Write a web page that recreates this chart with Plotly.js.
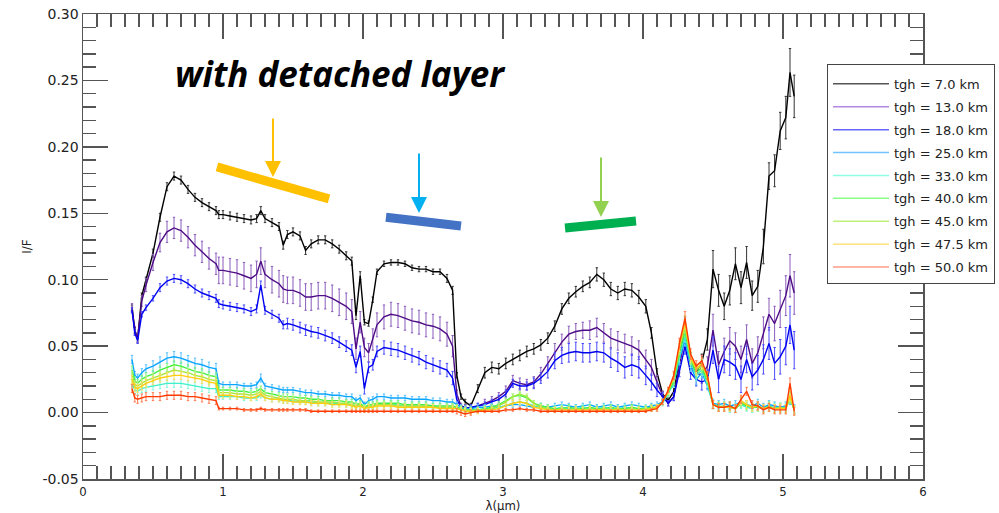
<!DOCTYPE html>
<html>
<head>
<meta charset="utf-8">
<script src="https://cdn.plot.ly/plotly-3.0.1.min.js"></script>
<style>html,body{margin:0;padding:0;background:#fff;}#chart{width:999px;height:513px;}</style>
</head>
<body>
<div id="chart"></div>
<script>
// ---- data ----
const wavelength = [
 0.35,0.37,0.39,0.42,0.45,0.50,0.55,0.60,0.65,0.70,
 0.75,0.80,0.85,0.90,0.95,0.97,1.00,1.05,1.10,1.15,
 1.20,1.24,1.27,1.30,1.35,1.40,1.43,1.46,1.50,1.55,
 1.59,1.63,1.68,1.73,1.78,1.83,1.88,1.92,1.95,1.98,
 2.01,2.04,2.07,2.10,2.15,2.20,2.25,2.30,2.35,2.40,
 2.45,2.50,2.55,2.60,2.64,2.67,2.70,2.73,2.77,2.82,
 2.87,2.92,2.97,3.02,3.07,3.12,3.17,3.22,3.27,3.32,
 3.37,3.42,3.47,3.52,3.57,3.62,3.67,3.72,3.77,3.82,
 3.87,3.92,3.97,4.02,4.06,4.10,4.14,4.18,4.22,4.26,
 4.30,4.34,4.38,4.42,4.46,4.50,4.54,4.58,4.62,4.66,
 4.70,4.74,4.78,4.82,4.86,4.90,4.94,4.98,5.02,5.05,
 5.08];

const seriesNames = ['tgh = 7.0 km','tgh = 13.0 km','tgh = 18.0 km','tgh = 25.0 km','tgh = 33.0 km',
                     'tgh = 40.0 km','tgh = 45.0 km','tgh = 47.5 km','tgh = 50.0 km'];

const if_tgh07 = [
 0.079,0.062,0.055,0.088,0.100,0.120,0.147,0.170,0.178,0.175,
 0.168,0.162,0.158,0.155,0.152,0.149,0.149,0.148,0.147,0.146,
 0.145,0.146,0.152,0.146,0.143,0.140,0.126,0.134,0.136,0.133,
 0.122,0.127,0.130,0.130,0.127,0.123,0.118,0.114,0.073,0.103,
 0.068,0.067,0.085,0.106,0.112,0.113,0.113,0.112,0.109,0.108,
 0.108,0.106,0.106,0.101,0.092,0.028,0.012,0.008,0.005,0.018,
 0.030,0.034,0.033,0.037,0.040,0.043,0.046,0.048,0.051,0.056,
 0.065,0.078,0.086,0.091,0.095,0.098,0.104,0.100,0.093,0.090,
 0.093,0.092,0.087,0.080,0.060,0.030,0.014,0.009,0.016,0.040,
 0.066,0.040,0.030,0.038,0.055,0.108,0.092,0.080,0.092,0.112,
 0.094,0.113,0.088,0.095,0.125,0.178,0.182,0.212,0.222,0.256,
 0.238];
const if_tgh13 = [
 0.079,0.062,0.056,0.084,0.096,0.113,0.128,0.136,0.139,0.137,
 0.132,0.126,0.121,0.116,0.112,0.107,0.107,0.106,0.105,0.103,
 0.101,0.104,0.114,0.104,0.100,0.097,0.093,0.092,0.092,0.090,
 0.087,0.087,0.088,0.088,0.086,0.083,0.080,0.076,0.048,0.068,
 0.049,0.045,0.055,0.066,0.072,0.074,0.073,0.071,0.069,0.068,
 0.066,0.065,0.063,0.059,0.050,0.014,0.005,0.004,0.003,0.005,
 0.007,0.009,0.012,0.016,0.024,0.022,0.021,0.023,0.029,0.037,
 0.046,0.053,0.059,0.061,0.062,0.062,0.064,0.060,0.056,0.054,
 0.052,0.050,0.047,0.040,0.034,0.023,0.013,0.007,0.012,0.035,
 0.058,0.035,0.030,0.028,0.035,0.062,0.036,0.046,0.054,0.050,
 0.040,0.055,0.037,0.045,0.060,0.074,0.067,0.078,0.088,0.103,
 0.090];
const if_tgh18 = [
 0.077,0.060,0.054,0.074,0.079,0.086,0.094,0.099,0.101,0.100,
 0.097,0.093,0.090,0.088,0.086,0.082,0.081,0.080,0.079,0.078,
 0.076,0.078,0.096,0.077,0.074,0.071,0.066,0.067,0.066,0.064,
 0.062,0.061,0.060,0.058,0.056,0.053,0.050,0.047,0.034,0.046,
 0.018,0.034,0.036,0.046,0.049,0.048,0.047,0.045,0.043,0.041,
 0.038,0.036,0.034,0.032,0.026,0.010,0.004,0.003,0.004,0.005,
 0.006,0.008,0.010,0.014,0.022,0.020,0.020,0.022,0.026,0.031,
 0.039,0.043,0.045,0.046,0.045,0.045,0.046,0.045,0.041,0.038,
 0.034,0.036,0.034,0.028,0.023,0.017,0.012,0.007,0.012,0.032,
 0.050,0.030,0.025,0.023,0.025,0.047,0.025,0.040,0.038,0.035,
 0.025,0.040,0.027,0.032,0.040,0.052,0.037,0.042,0.050,0.066,
 0.047];
const if_tgh25 = [
 0.040,0.028,0.026,0.030,0.033,0.035,0.038,0.041,0.042,0.041,
 0.039,0.037,0.036,0.034,0.033,0.022,0.021,0.021,0.021,0.020,
 0.020,0.021,0.026,0.020,0.019,0.018,0.017,0.017,0.017,0.016,
 0.015,0.015,0.014,0.014,0.013,0.013,0.012,0.012,0.009,0.011,
 0.006,0.009,0.010,0.012,0.012,0.011,0.011,0.011,0.010,0.010,
 0.010,0.009,0.009,0.008,0.008,0.006,0.004,0.003,0.003,0.004,
 0.004,0.005,0.004,0.005,0.006,0.006,0.005,0.004,0.005,0.004,
 0.005,0.006,0.005,0.004,0.005,0.006,0.004,0.005,0.006,0.004,
 0.005,0.006,0.005,0.004,0.005,0.006,0.008,0.015,0.022,0.040,
 0.055,0.035,0.025,0.030,0.020,0.007,0.006,0.007,0.005,0.006,
 0.008,0.006,0.005,0.007,0.004,0.006,0.005,0.004,0.005,0.010,
 0.003];
const if_tgh33 = [
 0.022,0.017,0.016,0.018,0.019,0.020,0.021,0.022,0.022,0.022,
 0.021,0.020,0.019,0.018,0.018,0.012,0.012,0.012,0.012,0.011,
 0.011,0.011,0.013,0.011,0.010,0.010,0.009,0.009,0.009,0.008,
 0.008,0.008,0.007,0.007,0.007,0.007,0.006,0.006,0.005,0.006,
 0.004,0.005,0.005,0.006,0.006,0.006,0.006,0.005,0.005,0.005,
 0.005,0.005,0.004,0.004,0.004,0.004,0.003,0.002,0.002,0.002,
 0.003,0.003,0.004,0.005,0.007,0.008,0.007,0.005,0.004,0.003,
 0.003,0.004,0.003,0.003,0.004,0.003,0.003,0.004,0.003,0.003,
 0.004,0.003,0.003,0.004,0.003,0.004,0.007,0.014,0.022,0.042,
 0.058,0.038,0.028,0.032,0.022,0.006,0.004,0.005,0.003,0.004,
 0.006,0.004,0.003,0.005,0.003,0.004,0.004,0.003,0.004,0.012,
 0.002];
const if_tgh40 = [
 0.032,0.024,0.022,0.025,0.027,0.029,0.032,0.034,0.036,0.035,
 0.033,0.031,0.030,0.028,0.027,0.017,0.017,0.017,0.016,0.016,
 0.015,0.016,0.018,0.015,0.014,0.013,0.012,0.012,0.012,0.011,
 0.011,0.010,0.010,0.009,0.009,0.009,0.008,0.008,0.006,0.007,
 0.004,0.006,0.006,0.007,0.007,0.007,0.007,0.006,0.006,0.006,
 0.006,0.005,0.005,0.005,0.005,0.004,0.003,0.002,0.002,0.002,
 0.003,0.004,0.006,0.009,0.012,0.013,0.011,0.007,0.005,0.004,
 0.003,0.003,0.004,0.003,0.003,0.004,0.003,0.003,0.004,0.003,
 0.003,0.004,0.003,0.003,0.004,0.004,0.008,0.015,0.024,0.045,
 0.062,0.040,0.030,0.034,0.024,0.006,0.005,0.004,0.005,0.003,
 0.007,0.005,0.004,0.004,0.003,0.005,0.003,0.004,0.003,0.011,
 0.002];
const if_tgh45 = [
 0.028,0.021,0.020,0.022,0.024,0.026,0.028,0.030,0.032,0.031,
 0.030,0.028,0.027,0.025,0.024,0.015,0.015,0.015,0.014,0.014,
 0.013,0.014,0.016,0.013,0.012,0.011,0.010,0.010,0.010,0.009,
 0.009,0.009,0.008,0.008,0.008,0.007,0.007,0.006,0.005,0.006,
 0.003,0.005,0.005,0.006,0.006,0.006,0.005,0.005,0.005,0.005,
 0.005,0.004,0.004,0.004,0.004,0.003,0.002,0.002,0.001,0.002,
 0.002,0.003,0.005,0.008,0.012,0.014,0.012,0.007,0.004,0.003,
 0.002,0.003,0.002,0.003,0.002,0.003,0.002,0.003,0.002,0.003,
 0.002,0.003,0.002,0.003,0.003,0.004,0.008,0.016,0.026,0.048,
 0.065,0.041,0.032,0.036,0.026,0.006,0.004,0.005,0.004,0.003,
 0.008,0.006,0.004,0.005,0.003,0.004,0.003,0.004,0.003,0.012,
 0.002];
const if_tgh475 = [
 0.025,0.019,0.018,0.020,0.022,0.024,0.026,0.027,0.028,0.028,
 0.027,0.026,0.025,0.023,0.022,0.013,0.013,0.013,0.012,0.012,
 0.011,0.012,0.014,0.011,0.010,0.010,0.009,0.009,0.008,0.008,
 0.008,0.007,0.007,0.007,0.006,0.006,0.006,0.005,0.004,0.005,
 0.003,0.004,0.004,0.005,0.005,0.005,0.004,0.004,0.004,0.004,
 0.004,0.004,0.003,0.003,0.003,0.003,0.002,0.001,0.001,0.001,
 0.002,0.002,0.003,0.005,0.007,0.008,0.007,0.004,0.003,0.002,
 0.002,0.002,0.002,0.002,0.002,0.002,0.002,0.002,0.002,0.002,
 0.002,0.002,0.002,0.002,0.003,0.004,0.008,0.016,0.027,0.050,
 0.068,0.042,0.033,0.037,0.027,0.006,0.004,0.004,0.004,0.003,
 0.009,0.006,0.004,0.005,0.003,0.004,0.003,0.003,0.003,0.013,
 0.002];
const if_tgh50 = [
 0.018,0.011,0.010,0.011,0.012,0.012,0.012,0.013,0.013,0.013,
 0.012,0.012,0.011,0.010,0.009,0.003,0.003,0.003,0.003,0.002,
 0.002,0.002,0.003,0.002,0.002,0.002,0.002,0.002,0.002,0.002,
 0.002,0.001,0.001,0.001,0.001,0.001,0.001,0.001,0.001,0.001,
 0.001,0.001,0.001,0.001,0.001,0.001,0.001,0.001,0.001,0.001,
 0.001,0.001,0.001,0.001,0.001,0.001,0.000,-0.001,0.000,0.001,
 0.001,0.001,0.001,0.002,0.002,0.003,0.002,0.002,0.001,0.001,
 0.001,0.001,0.001,0.001,0.001,0.001,0.001,0.001,0.001,0.001,
 0.001,0.001,0.001,0.001,0.002,0.003,0.008,0.017,0.028,0.052,
 0.071,0.044,0.035,0.039,0.028,0.006,0.004,0.004,0.005,0.003,
 0.010,0.016,0.006,0.005,0.002,0.004,0.002,0.002,0.002,0.022,
 0.001];

// ---- 1-sigma uncertainties ----
const err_tgh07 = [
 0.002,0.002,0.002,0.002,0.002,0.003,0.003,0.003,0.003,0.003,
 0.003,0.003,0.003,0.003,0.003,0.003,0.003,0.003,0.003,0.003,
 0.003,0.003,0.003,0.003,0.003,0.003,0.003,0.003,0.003,0.003,
 0.003,0.003,0.003,0.003,0.003,0.003,0.003,0.003,0.003,0.003,
 0.002,0.002,0.002,0.002,0.002,0.002,0.002,0.002,0.002,0.002,
 0.002,0.002,0.002,0.003,0.003,0.002,0.002,0.002,0.002,0.003,
 0.004,0.004,0.004,0.004,0.004,0.004,0.004,0.004,0.004,0.004,
 0.004,0.004,0.004,0.004,0.004,0.004,0.005,0.005,0.005,0.005,
 0.005,0.005,0.005,0.005,0.004,0.003,0.002,0.002,0.003,0.005,
 0.006,0.005,0.005,0.006,0.008,0.014,0.012,0.010,0.011,0.012,
 0.012,0.012,0.011,0.012,0.013,0.010,0.012,0.014,0.016,0.018,
 0.016];
const err_tgh13 = [
 0.003,0.003,0.003,0.004,0.005,0.006,0.007,0.008,0.008,0.008,
 0.008,0.008,0.008,0.008,0.008,0.010,0.010,0.010,0.010,0.010,
 0.010,0.010,0.010,0.010,0.010,0.010,0.010,0.010,0.010,0.010,
 0.010,0.010,0.010,0.010,0.010,0.010,0.010,0.009,0.008,0.008,
 0.007,0.007,0.008,0.009,0.009,0.009,0.009,0.009,0.009,0.009,
 0.009,0.009,0.009,0.009,0.008,0.003,0.002,0.002,0.002,0.002,
 0.003,0.003,0.003,0.004,0.004,0.004,0.004,0.004,0.005,0.005,
 0.006,0.006,0.006,0.006,0.006,0.007,0.007,0.007,0.007,0.007,
 0.007,0.007,0.007,0.007,0.006,0.005,0.003,0.002,0.003,0.005,
 0.006,0.005,0.005,0.006,0.007,0.012,0.010,0.010,0.010,0.010,
 0.010,0.011,0.011,0.012,0.012,0.012,0.013,0.014,0.015,0.016,
 0.016];
const err_tgh18 = [
 0.002,0.002,0.002,0.002,0.002,0.002,0.003,0.003,0.003,0.003,
 0.003,0.003,0.003,0.003,0.003,0.003,0.003,0.003,0.003,0.003,
 0.003,0.003,0.003,0.003,0.003,0.003,0.003,0.004,0.004,0.004,
 0.004,0.004,0.004,0.004,0.004,0.004,0.004,0.004,0.004,0.004,
 0.004,0.004,0.004,0.004,0.005,0.005,0.005,0.005,0.005,0.005,
 0.005,0.005,0.005,0.005,0.005,0.003,0.002,0.002,0.002,0.002,
 0.002,0.002,0.003,0.003,0.003,0.003,0.003,0.004,0.004,0.005,
 0.006,0.006,0.007,0.007,0.007,0.007,0.007,0.007,0.007,0.007,
 0.008,0.008,0.008,0.007,0.006,0.005,0.003,0.002,0.003,0.005,
 0.006,0.005,0.005,0.006,0.007,0.010,0.010,0.010,0.010,0.010,
 0.010,0.010,0.010,0.011,0.011,0.012,0.012,0.013,0.014,0.014,
 0.014];
const err_tgh25 = [
 0.003,0.003,0.003,0.003,0.003,0.004,0.004,0.004,0.004,0.004,
 0.004,0.004,0.004,0.004,0.004,0.002,0.002,0.002,0.002,0.002,
 0.002,0.002,0.003,0.002,0.002,0.002,0.002,0.002,0.002,0.002,
 0.002,0.002,0.002,0.002,0.002,0.002,0.002,0.002,0.002,0.002,
 0.002,0.002,0.002,0.002,0.002,0.002,0.002,0.002,0.002,0.002,
 0.002,0.002,0.002,0.002,0.002,0.002,0.002,0.002,0.002,0.002,
 0.002,0.002,0.002,0.002,0.002,0.002,0.002,0.002,0.002,0.002,
 0.002,0.002,0.002,0.002,0.002,0.002,0.002,0.002,0.002,0.002,
 0.002,0.002,0.002,0.002,0.002,0.002,0.002,0.002,0.003,0.004,
 0.005,0.004,0.004,0.004,0.003,0.003,0.003,0.003,0.003,0.003,
 0.003,0.003,0.003,0.003,0.003,0.003,0.003,0.003,0.003,0.004,
 0.003];
const err_tgh33 = [
 0.003,0.003,0.003,0.003,0.003,0.003,0.003,0.003,0.003,0.003,
 0.003,0.003,0.003,0.003,0.003,0.002,0.002,0.002,0.002,0.002,
 0.002,0.002,0.002,0.002,0.002,0.002,0.002,0.002,0.002,0.002,
 0.002,0.002,0.002,0.002,0.002,0.002,0.002,0.002,0.002,0.002,
 0.002,0.002,0.002,0.002,0.002,0.002,0.002,0.002,0.002,0.002,
 0.002,0.002,0.002,0.002,0.002,0.002,0.002,0.002,0.002,0.002,
 0.002,0.002,0.002,0.002,0.002,0.002,0.002,0.002,0.002,0.002,
 0.002,0.002,0.002,0.002,0.002,0.002,0.002,0.002,0.002,0.002,
 0.002,0.002,0.002,0.002,0.002,0.002,0.002,0.002,0.003,0.004,
 0.005,0.004,0.004,0.004,0.003,0.003,0.003,0.003,0.003,0.003,
 0.003,0.003,0.003,0.003,0.003,0.003,0.003,0.003,0.003,0.004,
 0.003];
const err_tgh40 = [
 0.003,0.003,0.003,0.003,0.003,0.003,0.003,0.003,0.003,0.003,
 0.003,0.003,0.003,0.003,0.003,0.002,0.002,0.002,0.002,0.002,
 0.002,0.002,0.002,0.002,0.002,0.002,0.002,0.002,0.002,0.002,
 0.002,0.002,0.002,0.002,0.002,0.002,0.002,0.002,0.002,0.002,
 0.002,0.002,0.002,0.002,0.002,0.002,0.002,0.002,0.002,0.002,
 0.002,0.002,0.002,0.002,0.002,0.002,0.002,0.002,0.002,0.002,
 0.002,0.002,0.002,0.002,0.002,0.002,0.002,0.002,0.002,0.002,
 0.002,0.002,0.002,0.002,0.002,0.002,0.002,0.002,0.002,0.002,
 0.002,0.002,0.002,0.002,0.002,0.002,0.002,0.002,0.003,0.004,
 0.005,0.004,0.004,0.004,0.003,0.003,0.003,0.003,0.003,0.003,
 0.003,0.003,0.003,0.003,0.003,0.003,0.003,0.003,0.003,0.004,
 0.003];
const err_tgh45 = [
 0.003,0.003,0.003,0.003,0.003,0.003,0.003,0.003,0.003,0.003,
 0.003,0.003,0.003,0.003,0.003,0.002,0.002,0.002,0.002,0.002,
 0.002,0.002,0.002,0.002,0.002,0.002,0.002,0.002,0.002,0.002,
 0.002,0.002,0.002,0.002,0.002,0.002,0.002,0.002,0.002,0.002,
 0.002,0.002,0.002,0.002,0.002,0.002,0.002,0.002,0.002,0.002,
 0.002,0.002,0.002,0.002,0.002,0.002,0.002,0.002,0.002,0.002,
 0.002,0.002,0.002,0.002,0.002,0.002,0.002,0.002,0.002,0.002,
 0.002,0.002,0.002,0.002,0.002,0.002,0.002,0.002,0.002,0.002,
 0.002,0.002,0.002,0.002,0.002,0.002,0.002,0.002,0.003,0.004,
 0.005,0.004,0.004,0.004,0.003,0.003,0.003,0.003,0.003,0.003,
 0.003,0.003,0.003,0.003,0.003,0.003,0.003,0.003,0.003,0.004,
 0.003];
const err_tgh475 = [
 0.003,0.003,0.003,0.003,0.003,0.003,0.003,0.003,0.003,0.003,
 0.003,0.003,0.003,0.003,0.003,0.002,0.002,0.002,0.002,0.002,
 0.002,0.002,0.002,0.002,0.002,0.002,0.002,0.002,0.002,0.002,
 0.002,0.002,0.002,0.002,0.002,0.002,0.002,0.002,0.002,0.002,
 0.002,0.002,0.002,0.002,0.002,0.002,0.002,0.002,0.002,0.002,
 0.002,0.002,0.002,0.002,0.002,0.002,0.002,0.002,0.002,0.002,
 0.002,0.002,0.002,0.002,0.002,0.002,0.002,0.002,0.002,0.002,
 0.002,0.002,0.002,0.002,0.002,0.002,0.002,0.002,0.002,0.002,
 0.002,0.002,0.002,0.002,0.002,0.002,0.002,0.002,0.003,0.004,
 0.005,0.004,0.004,0.004,0.003,0.003,0.003,0.003,0.003,0.003,
 0.003,0.003,0.003,0.003,0.003,0.003,0.003,0.003,0.003,0.004,
 0.003];
const err_tgh50 = [
 0.003,0.003,0.003,0.003,0.003,0.003,0.003,0.003,0.003,0.003,
 0.003,0.003,0.003,0.003,0.003,0.001,0.001,0.001,0.001,0.001,
 0.001,0.001,0.001,0.001,0.001,0.001,0.001,0.001,0.001,0.001,
 0.001,0.001,0.001,0.001,0.001,0.001,0.001,0.001,0.001,0.001,
 0.001,0.001,0.001,0.001,0.001,0.001,0.001,0.001,0.001,0.001,
 0.001,0.001,0.001,0.001,0.001,0.002,0.002,0.002,0.002,0.001,
 0.001,0.001,0.001,0.001,0.001,0.001,0.001,0.001,0.001,0.001,
 0.001,0.001,0.001,0.001,0.001,0.001,0.001,0.001,0.001,0.001,
 0.001,0.001,0.001,0.001,0.001,0.002,0.002,0.002,0.003,0.004,
 0.005,0.004,0.004,0.004,0.003,0.003,0.003,0.003,0.003,0.003,
 0.003,0.003,0.003,0.003,0.003,0.003,0.003,0.003,0.003,0.004,
 0.003];

const xTickVals = [0,1,2,3,4,5,6];
const xTickText = ['0','1','2','3','4','5','6'];
const yTickVals = [-0.05,0,0.05,0.10,0.15,0.20,0.25,0.30];
const yTickText = ['-0.05','0.00','0.05','0.10','0.15','0.20','0.25','0.30'];

// ---- styles ----
const ifSeries  = [if_tgh07,if_tgh13,if_tgh18,if_tgh25,if_tgh33,if_tgh40,if_tgh45,if_tgh475,if_tgh50];
const errSeries = [err_tgh07,err_tgh13,err_tgh18,err_tgh25,err_tgh33,err_tgh40,err_tgh45,err_tgh475,err_tgh50];
const lineColors = ['#000000','#4e0c86','#0000f0','#0aa6ff','#3ef0c8','#44f044','#a6e83a','#ffcc10','#ff3a00'];
const errColors  = ['#333333','#8a5cbc','#4a4aff','#5cc0ff','#7ff5dc','#80f580','#c0f07a','#ffdc60','#ff7a50'];
const legColors  = ['#555555','#b488e0','#6666ff','#70c4ff','#8cffe4','#88ff88','#bff27a','#ffe27a','#ff9c84'];

const traces = [];
for (let i = 0; i < ifSeries.length; i++) {
  traces.push({
    type: 'scatter', mode: 'lines', x: wavelength, y: ifSeries[i], name: seriesNames[i],
    showlegend: false, hoverinfo: 'skip',
    line: {color: lineColors[i], width: 1.4},
    error_y: {type: 'data', array: errSeries[i], visible: true, color: errColors[i], thickness: 1, width: 1.2}
  });
}
for (let i = 0; i < seriesNames.length; i++) {
  traces.push({
    type: 'scatter', mode: 'lines', x: [null], y: [null], name: seriesNames[i],
    legendgroup: 'g' + i, showlegend: true,
    line: {color: legColors[i], width: 1.5}
  });
}

const axisCol = '#555555';
const layout = {
  width: 999, height: 513,
  margin: {l: 83, r: 76, t: 14, b: 34, autoexpand: false},
  paper_bgcolor: '#ffffff', plot_bgcolor: '#ffffff',
  font: {family: 'DejaVu Sans, sans-serif', color: '#222222', size: 13},
  showlegend: true,
  legend: {
    x: 0.8857, y: 0.8925, xanchor: 'left', yanchor: 'top',
    bgcolor: '#ffffff', bordercolor: '#444444', borderwidth: 1,
    font: {family: 'DejaVu Sans, sans-serif', size: 13, color: '#222222'},
    title: {text: ' ', font: {size: 3}},
    itemwidth: 56,
    tracegroupgap: 3, traceorder: 'grouped'
  },
  xaxis: {
    range: [0, 6], tickmode: 'array', tickvals: xTickVals, ticktext: xTickText,
    ticks: 'inside', ticklen: 25, tickwidth: 1.3, tickcolor: axisCol,
    showline: true, linecolor: axisCol, linewidth: 1.5, mirror: 'ticks',
    showgrid: false, zeroline: false,
    tickfont: {family: 'DejaVu Sans Condensed, DejaVu Sans, sans-serif', size: 13, color: '#222'},
    minor: {tickmode: 'linear', tick0: 0, dtick: 0.1, ticks: 'inside', ticklen: 13, tickwidth: 1.3, tickcolor: axisCol, showgrid: false},
    title: {text: 'λ(μm)', font: {family: 'DejaVu Sans Condensed, DejaVu Sans, sans-serif', size: 13, color: '#222'}, standoff: 6}
  },
  yaxis: {
    range: [-0.05, 0.30], tickmode: 'array', tickvals: yTickVals, ticktext: yTickText,
    ticks: 'inside', ticklen: 25, tickwidth: 1.3, tickcolor: axisCol,
    showline: true, linecolor: axisCol, linewidth: 1.5, mirror: 'ticks',
    showgrid: false, zeroline: false,
    tickfont: {family: 'DejaVu Sans, sans-serif', size: 14, color: '#222'},
    minor: {tickmode: 'linear', tick0: 0, dtick: 0.01, ticks: 'inside', ticklen: 13, tickwidth: 1.3, tickcolor: axisCol, showgrid: false},
    title: {text: 'I/F', font: {family: 'DejaVu Sans, sans-serif', size: 12, color: '#222'}, standoff: 8}
  },
  shapes: [
    {type: 'line', xref: 'x', yref: 'y', x0: 0.957, y0: 0.1849, x1: 1.757, y1: 0.1608, line: {color: '#FFC000', width: 9}, layer: 'above'},
    {type: 'line', xref: 'x', yref: 'y', x0: 2.164, y0: 0.1470, x1: 2.700, y1: 0.1405, line: {color: '#4472C4', width: 9}, layer: 'above'},
    {type: 'line', xref: 'x', yref: 'y', x0: 3.443, y0: 0.1389, x1: 3.950, y1: 0.1442, line: {color: '#00B050', width: 9}, layer: 'above'}
  ],
  annotations: [
    {xref: 'paper', yref: 'paper', x: 0.3065, y: 0.872, xanchor: 'center', yanchor: 'middle', showarrow: false,
     text: 'with detached layer', font: {family: 'Open Sans, sans-serif', size: 35, color: '#000', weight: 700, style: 'italic'}},
    {xref: 'x', yref: 'y', axref: 'x', ayref: 'y', x: 1.357, y: 0.1773, ax: 1.357, ay: 0.2225, text: '', showarrow: true,
     arrowhead: 2, arrowsize: 1.6, arrowwidth: 2, arrowcolor: '#FFC000', standoff: 0},
    {xref: 'x', yref: 'y', axref: 'x', ayref: 'y', x: 2.400, y: 0.1502, ax: 2.400, ay: 0.1962, text: '', showarrow: true,
     arrowhead: 2, arrowsize: 1.6, arrowwidth: 2, arrowcolor: '#00B0F0', standoff: 0},
    {xref: 'x', yref: 'y', axref: 'x', ayref: 'y', x: 3.700, y: 0.1472, ax: 3.700, ay: 0.1931, text: '', showarrow: true,
     arrowhead: 2, arrowsize: 1.6, arrowwidth: 2, arrowcolor: '#92D050', standoff: 0}
  ]
};

Plotly.newPlot('chart', traces, layout, {displayModeBar: false, staticPlot: true});
</script>
</body>
</html>
